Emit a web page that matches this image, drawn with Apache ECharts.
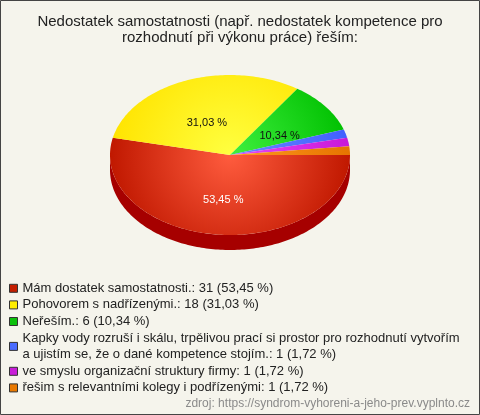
<!DOCTYPE html>
<html>
<head>
<meta charset="utf-8">
<script src="https://cdn.jsdelivr.net/npm/echarts@6/dist/echarts.min.js"></script>
<style>
  html, body { margin: 0; padding: 0; }
  #chart { width: 480px; height: 415px; }
</style>
</head>
<body>
<div id="chart"></div>
<script>
// data
const labels = [
    'Mám dostatek samostatnosti.',
    'Pohovorem s nadřízenými.',
    'Neřeším.',
    'Kapky vody rozruší i skálu, trpělivou prací si prostor pro rozhodnutí vytvořím a ujistím se, že o dané kompetence stojím.',
    've smyslu organizační struktury firmy',
    'řešim s relevantními kolegy i podřízenými'
];
const counts = [31, 18, 6, 1, 1, 1];
const percents = ['53,45', '31,03', '10,34', '1,72', '1,72', '1,72'];

// colours: flat (legend), centre / edge of the top gradient, side wall
const flatColors = ['#c41e00', '#ffee00', '#0cc00c', '#4a6cff', '#c81ed8', '#e87800'];
const innerColors = ['#ff5c3e', '#ffff40', '#40f040', '#6a88ff', '#e848f8', '#ff9a20'];
const outerColors = ['#c01800', '#ffe400', '#00c000', '#4060ff', '#c818d8', '#e67400'];
const sideColors = ['#a60000', '#c8b000', '#008a00', '#2030c0', '#900090', '#b05000'];

const font = "'Liberation Sans', Arial, sans-serif";
const pie = { cx: 230, cy: 155, rx: 120, ry: 80, depth: 15 };
const total = counts.reduce((a, b) => a + b, 0);

function pt (a, dy) {
    return [pie.cx + pie.rx * Math.cos(a), pie.cy + pie.ry * Math.sin(a) + (dy || 0)];
}

function arc (a, b, dy) {
    const pts = [];
    const n = Math.max(2, Math.ceil(Math.abs(b - a) / 0.02));
    for (let k = 0; k <= n; k++) {
        pts.push(pt(a + (b - a) * k / n, dy));
    }
    return pts;
}

function renderSlice (params, api) {
    const i = params.seriesIndex;
    let before = 0;
    for (let k = 0; k < i; k++) before += counts[k];
    const start = before / total * Math.PI * 2;
    const end = start + api.value(0) / total * Math.PI * 2;
    const children = [];

    // side wall, only the front half shows
    const a = Math.max(start, 0);
    const b = Math.min(end, Math.PI);
    if (b > a) {
        children.push({
            type: 'polygon',
            shape: { points: arc(a, b, 0).concat(arc(b, a, pie.depth)) },
            style: { fill: sideColors[i] }
        });
    }

    // top face
    children.push({
        type: 'polygon',
        shape: { points: [[pie.cx, pie.cy]].concat(arc(start, end, 0)) },
        style: {
            fill: {
                type: 'radial', x: pie.cx, y: pie.cy, r: pie.rx, global: true,
                colorStops: [
                    { offset: 0, color: innerColors[i] },
                    { offset: 1, color: outerColors[i] }
                ]
            }
        }
    });

    // percentage label on the bigger slices
    if (api.value(0) / total > 0.05) {
        const mid = (start + end) / 2;
        children.push({
            type: 'text',
            x: pie.cx + pie.rx * 0.52 * Math.cos(mid),
            y: pie.cy + 5 + pie.ry * 0.5 * Math.sin(mid),
            style: {
                text: percents[i] + ' %',
                fill: i === 0 ? '#ffffff' : '#111111',
                font: '11px ' + font,
                align: 'center',
                verticalAlign: 'middle'
            }
        });
    }
    return { type: 'group', children: children };
}

const chart = echarts.init(document.getElementById('chart'));
chart.setOption({
    backgroundColor: '#f5f4ec',
    animation: false,
    title: {
        text: 'Nedostatek samostatnosti (např. nedostatek kompetence pro\nrozhodnutí při výkonu práce) řeším:',
        left: 'center',
        top: 9,
        textStyle: {
            fontFamily: font,
            fontSize: 15,
            fontWeight: 'normal',
            color: '#222',
            lineHeight: 16
        }
    },
    legend: {
        orient: 'vertical',
        left: 9,
        top: 280,
        padding: 0,
        icon: 'rect',
        itemWidth: 8,
        itemHeight: 8,
        itemGap: 0,
        selectedMode: false,
        itemStyle: { borderColor: '#333', borderWidth: 1 },
        data: labels,
        formatter: (name) => {
            const i = labels.indexOf(name);
            // the long answer wraps after "vytvořím"
            return (name + ': ' + counts[i] + ' (' + percents[i] + ' %)')
                .replace('vytvořím ', 'vytvořím\n');
        },
        textStyle: {
            fontFamily: font,
            fontSize: 13,
            color: '#222',
            lineHeight: 16.6
        }
    },
    graphic: [
        {
            type: 'rect',
            shape: { x: 0.5, y: 0.5, width: 479, height: 414 },
            style: { fill: 'none', stroke: '#444', lineWidth: 1 },
            z: 100
        },
        {
            type: 'text',
            right: 10,
            top: 398,
            style: {
                text: 'zdroj: https://syndrom-vyhoreni-a-jeho-prev.vyplnto.cz',
                font: '12px ' + font,
                fill: '#8a8a8a'
            }
        }
    ],
    series: labels.map((name, i) => ({
        name: name,
        type: 'custom',
        coordinateSystem: 'none',
        itemStyle: { color: flatColors[i] },
        data: [[counts[i]]],
        renderItem: renderSlice
    }))
});
</script>
</body>
</html>
